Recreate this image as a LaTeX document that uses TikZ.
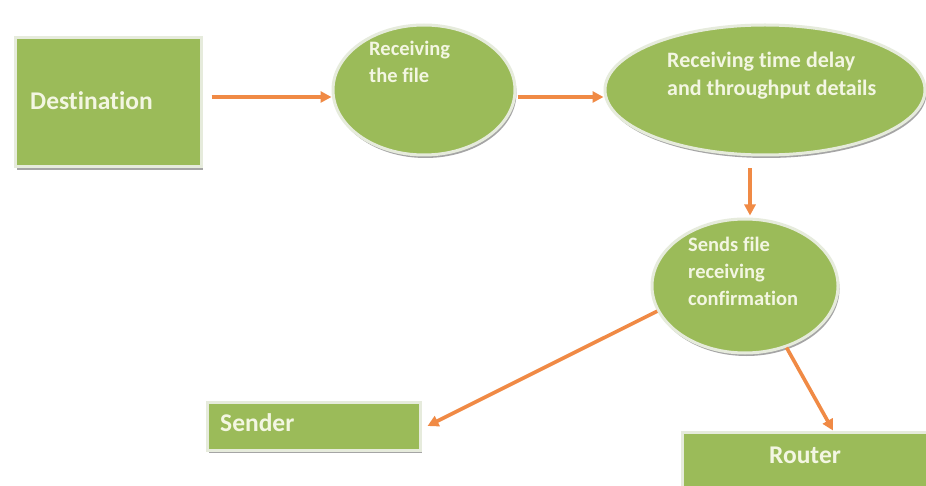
\documentclass[tikz,border=0pt]{standalone}
\usepackage{fontspec}
\setmainfont[Ligatures=NoCommon]{Carlito}
\usetikzlibrary{shapes.geometric,arrows.meta,shadows}
\definecolor{leaf}{HTML}{9BBB59}
\definecolor{flow}{HTML}{F08A45}
\definecolor{rim}{HTML}{E6EBDC}
\definecolor{shade}{HTML}{9C9C9C}
\definecolor{ink}{HTML}{F3F6E2}
\begin{document}
\begin{tikzpicture}[x=1pt,y=-1pt,
  shadowed/.style={drop shadow={fill=shade,opacity=0.9,shadow xshift=1.5pt,shadow yshift=-3pt}},
  box/.style={rectangle,fill=leaf,draw=rim,line width=3pt,inner sep=0pt,shadowed},
  oval/.style={ellipse,fill=leaf,draw=rim,line width=3pt,inner sep=0pt,shadowed},
  bigtxt/.style={text=ink,inner sep=0pt,font=\bfseries\fontsize{25.5}{30}\selectfont},
  smalltxt/.style={text=ink,inner sep=0pt,align=left,anchor=north west,font=\bfseries\fontsize{20.5}{27}\selectfont},
  widetxt/.style={smalltxt,font=\bfseries\fontsize{22}{27.5}\selectfont},
  link/.style={draw=flow,line width=3.6pt,-{Triangle[length=11pt,width=11pt]}}]
  \clip (0,0) rectangle (926,486);
  \fill[white] (0,0) rectangle (926,486);

  % shapes
  \node[box,minimum width=186pt,minimum height=129pt] (dest) at (108,102.5) {};
  \node[oval,minimum width=182pt,minimum height=130pt] (e1) at (424,90) {};
  \node[oval,minimum width=320pt,minimum height=130pt] (e2) at (765,90) {};
  \node[oval,minimum width=186pt,minimum height=134pt] (e3) at (745,286) {};
  \node[box,minimum width=213pt,minimum height=48pt] (sender) at (313.5,426) {};
  \node[box,minimum width=262pt,minimum height=62pt] (router) at (813,463) {};

  % labels
  \node[bigtxt,anchor=base west] (destlbl) at (30,110) {Destination};
  \node[smalltxt] (e1lbl) at (369,41) {Receiving\\the file};
  \node[widetxt] (e2lbl) at (667,52) {Receiving time delay\\and throughput details};
  \node[smalltxt] (e3lbl) at (688,237) {Sends file\\receiving\\confirmation};
  \node[bigtxt,anchor=base west] (senderlbl) at (220,431) {Sender};
  \node[bigtxt,anchor=base] (routerlbl) at (805,463) {Router};

  % connectors
  \coordinate (row) at (0,97);
  \coordinate (col3) at (750,0);
  \coordinate (col5) at (833,0);
  \draw[link,shorten <=9pt] (dest.east |- row) -- (e1.west |- row);
  \draw[link,shorten <=1pt] (e1.east |- row) -- (e2.west |- row);
  \draw[link,shorten <=12pt,shorten >=2pt] (col3 |- e2.south) -- (col3 |- e3.north);
  \draw[link] (e3.196) -- ([xshift=6pt]sender.east);
  \draw[link] (e3.304) -- (col5 |- router.north);
\end{tikzpicture}
\end{document}
